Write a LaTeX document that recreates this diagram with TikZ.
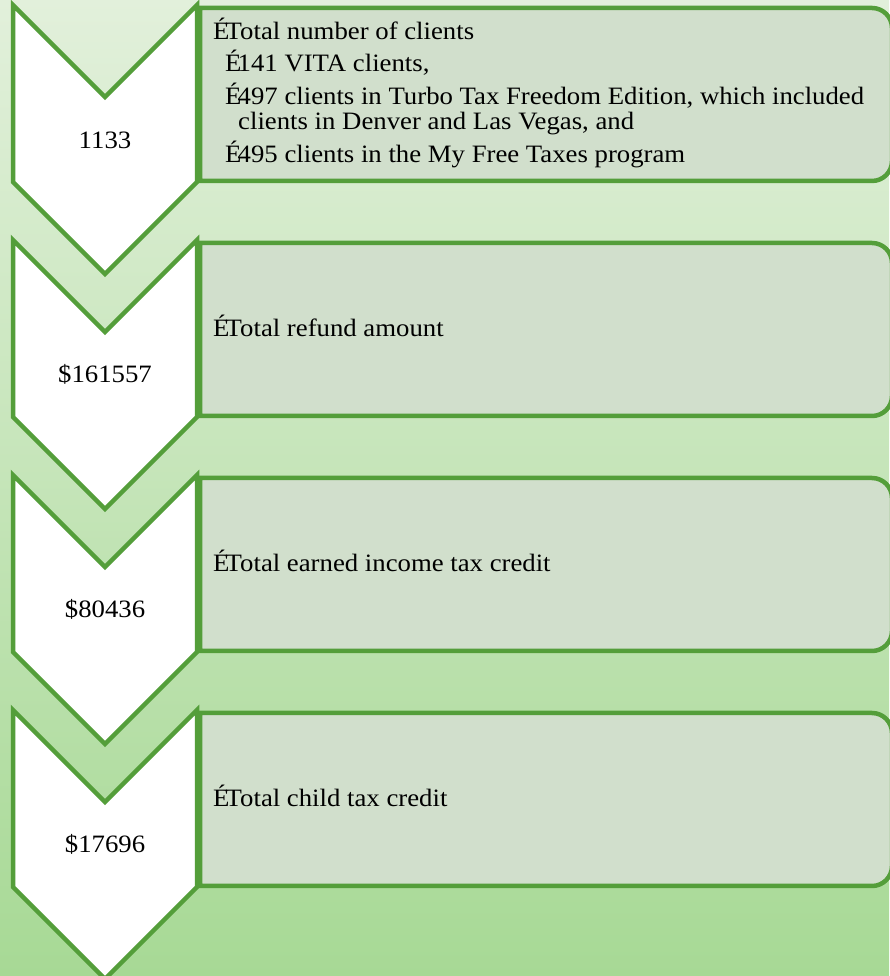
\documentclass[tikz,border=0pt]{standalone}
\usepackage{fontspec}
\setmainfont[FakeStretch=1.07]{Liberation Serif}
\definecolor{edgegreen}{RGB}{84,158,58}
\definecolor{panelfill}{RGB}{209,223,204}
\definecolor{bgtop}{RGB}{226,240,219}
\definecolor{bgbottom}{RGB}{167,217,149}
\newcommand{\bmark}{\makebox[0.5em][l]{É}}

\begin{document}
\begin{tikzpicture}[
        x=1pt, y=1pt,
        chevron/.style={draw=edgegreen, fill=white, line width=4.5pt},
        panel/.style={draw=edgegreen, fill=panelfill, line width=4.5pt},
        value/.style={anchor=base, inner sep=0pt, font=\fontsize{25}{31}\selectfont},
        info/.style={anchor=base west, inner sep=0pt, font=\fontsize{25}{31}\selectfont}
    ]
        \shade[top color=bgtop, bottom color=bgbottom] (0,0) rectangle (889,976);
        \useasboundingbox (0,0) rectangle (889,976);

        % panels on the right (right side runs off the page)
        \draw[panel] (200,968) -- (872,968) arc[start angle=90, end angle=0, radius=20]
            -- (892,815) arc[start angle=0, end angle=-90, radius=20] -- (200,795) -- cycle;
        \draw[panel] (200,733) -- (872,733) arc[start angle=90, end angle=0, radius=20]
            -- (892,580) arc[start angle=0, end angle=-90, radius=20] -- (200,560) -- cycle;
        \draw[panel] (200,498) -- (872,498) arc[start angle=90, end angle=0, radius=20]
            -- (892,345) arc[start angle=0, end angle=-90, radius=20] -- (200,325) -- cycle;
        \draw[panel] (200,263) -- (872,263) arc[start angle=90, end angle=0, radius=20]
            -- (892,110) arc[start angle=0, end angle=-90, radius=20] -- (200,90) -- cycle;

        % chevrons on the left
        \draw[chevron] (13,971) -- (105,879) -- (197,971) -- (197,794) -- (105,702) -- (13,794) -- cycle;
        \draw[chevron] (13,736) -- (105,644) -- (197,736) -- (197,559) -- (105,467) -- (13,559) -- cycle;
        \draw[chevron] (13,501) -- (105,409) -- (197,501) -- (197,324) -- (105,232) -- (13,324) -- cycle;
        \draw[chevron] (13,266) -- (105,174) -- (197,266) -- (197,89) -- (105,-3) -- (13,89) -- cycle;

        \node[value] (clients) at (105,827) {1133};
        \node[value] (refund) at (105,593) {\$161557};
        \node[value] (eitc) at (105,358) {\$80436};
        \node[value] (ctc) at (105,123) {\$17696};

        \node[info] (clientsA) at (213,936) {\bmark Total number of clients};
        \node[info] (clientsB) at (225,904) {\bmark 141 VITA clients,};
        \node[info] (clientsC) at (225,871) {\bmark 497 clients in Turbo Tax Freedom Edition, which included};
        \node[info] (clientsD) at (238,846) {clients in Denver and Las Vegas, and};
        \node[info] (clientsE) at (225,813) {\bmark 495 clients in the My Free Taxes program};
        \node[info] (refundtxt) at (213,639) {\bmark Total refund amount};
        \node[info] (eitctxt) at (213,404) {\bmark Total earned income tax credit};
        \node[info] (ctctxt) at (213,169) {\bmark Total child tax credit};
    \end{tikzpicture}
\end{document}
